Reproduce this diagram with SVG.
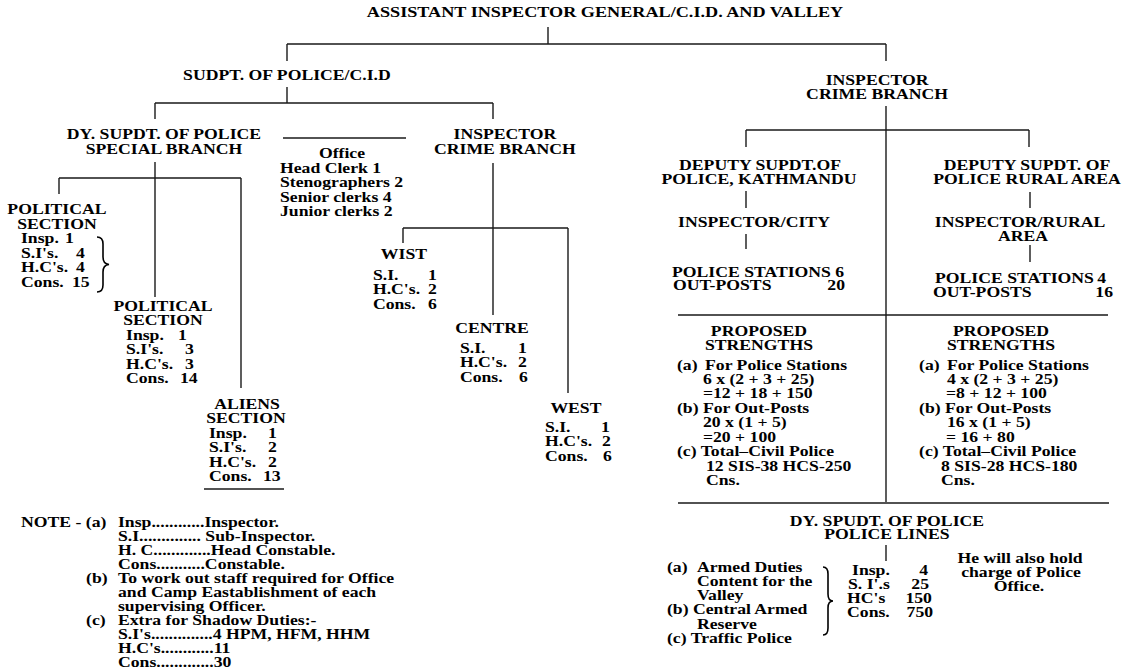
<svg xmlns="http://www.w3.org/2000/svg" width="1137" height="669" viewBox="0 0 1137 669">
<style>
text { font-family: "Liberation Serif", "Times New Roman", serif; font-weight: bold; font-size: 14.5px; fill: #000; }
.c { text-anchor: middle; }
.e { text-anchor: end; }
.ttl { font-size: 14.9px; }
.ln { stroke: #1a1a1a; stroke-width: 1.4; fill: none; }
.br { stroke: #000; stroke-width: 1.6; fill: none; }
</style>
<rect width="1137" height="669" fill="#fff"/>
<g id="connectors" class="ln">
  <path d="M548 27 V44 M287 44 H886 M287 44 V61 M886 44 V61"/>
  <path d="M287 87 V103 M155 103 H493 M155 103 V119 M493 103 V119"/>
  <path d="M283 138 H406"/>
  <path d="M155 162 V297 M59 178 H241 M59 178 V194 M241 178 V388"/>
  <path d="M493 163 V315 M403 228 H568 M403 228 V243 M568 228 V393"/>
  <path d="M886 106 V502 M746 130 H1029 M746 130 V147 M1029 130 V147"/>
  <path d="M746 191 V208 M746 234 V249 M1030 192 V208 M1030 245 V262"/>
  <path d="M678 315 H1108 M678 503 H1109"/>
  <path d="M886 545 V561"/>
</g>
<g id="n-title"><g transform="scale(1.22 1)"><text class="c ttl" x="495.9" y="17">ASSISTANT INSPECTOR GENERAL/C.I.D. AND VALLEY</text></g></g>
<g id="n-sudpt"><g transform="scale(1.22 1)"><text class="c" x="235.2" y="80">SUDPT. OF POLICE/C.I.D</text></g></g>
<g id="n-dy-special"><g transform="scale(1.22 1)">
  <text class="c" x="134.4" y="139">DY. SUPDT. OF POLICE</text>
  <text class="c" x="134.4" y="154">SPECIAL BRANCH</text>
</g></g>
<g id="n-office"><g transform="scale(1.22 1)">
  <text class="c" x="280.3" y="158">Office</text>
  <text x="229.5" y="173">Head Clerk 1</text>
  <text x="229.5" y="187">Stenographers 2</text>
  <text x="229.5" y="202">Senior clerks 4</text>
  <text x="229.5" y="216">Junior clerks 2</text>
</g></g>
<g id="n-insp-crime-left"><g transform="scale(1.22 1)">
  <text class="c" x="413.9" y="139">INSPECTOR</text>
  <text class="c" x="413.9" y="154">CRIME BRANCH</text>
</g></g>
<g id="n-political-1"><g transform="scale(1.22 1)">
  <text class="c" x="46.7" y="214">POLITICAL</text>
  <text class="c" x="46.7" y="229">SECTION</text>
  <text x="17.2" y="243.5">Insp.</text><text x="53.3" y="243.5">1</text>
  <text x="17.2" y="258">S.I's.</text><text x="62.3" y="258">4</text>
  <text x="17.2" y="272.5">H.C's.</text><text x="62.3" y="272.5">4</text>
  <text x="17.2" y="287">Cons.</text><text x="59" y="287">15</text>
</g>
  <path class="br" d="M97 237 Q103 237 103 244 V257 Q103 264 109 264.5 Q103 265 103 272 V285 Q103 292 97 292"/>
</g>
<g id="n-political-2"><g transform="scale(1.22 1)">
  <text class="c" x="133.6" y="311">POLITICAL</text>
  <text class="c" x="133.6" y="325.5">SECTION</text>
  <text x="103.3" y="340">Insp.</text><text x="145.9" y="340">1</text>
  <text x="103.3" y="354.5">S.I's.</text><text x="151.6" y="354.5">3</text>
  <text x="103.3" y="369">H.C's.</text><text x="151.6" y="369">3</text>
  <text x="103.3" y="383.5">Cons.</text><text x="147.5" y="383.5">14</text>
</g></g>
<g id="n-aliens"><g transform="scale(1.22 1)">
  <text class="c" x="202.5" y="409">ALIENS</text>
  <text class="c" x="201.6" y="423.5">SECTION</text>
  <text x="171.3" y="438">Insp.</text><text x="219.7" y="438">1</text>
  <text x="171.3" y="452.5">S.I's.</text><text x="219.7" y="452.5">2</text>
  <text x="171.3" y="467">H.C's.</text><text x="219.7" y="467">2</text>
  <text x="171.3" y="481.5">Cons.</text><text x="215.6" y="481.5">13</text>
</g>
  <path class="ln" d="M204 489 H284"/>
</g>
<g id="n-wist"><g transform="scale(1.22 1)">
  <text class="c" x="331.1" y="259">WIST</text>
  <text x="305.7" y="280">S.I.</text><text x="350.8" y="280">1</text>
  <text x="305.7" y="294.5">H.C's.</text><text x="350.8" y="294.5">2</text>
  <text x="305.7" y="309">Cons.</text><text x="350.8" y="309">6</text>
</g></g>
<g id="n-centre"><g transform="scale(1.22 1)">
  <text class="c" x="403.3" y="333">CENTRE</text>
  <text x="377" y="353">S.I.</text><text x="424.6" y="353">1</text>
  <text x="377" y="367.5">H.C's.</text><text x="424.6" y="367.5">2</text>
  <text x="377" y="382">Cons.</text><text x="425.4" y="382">6</text>
</g></g>
<g id="n-west"><g transform="scale(1.22 1)">
  <text class="c" x="472.1" y="413">WEST</text>
  <text x="446.7" y="432">S.I.</text><text x="492.6" y="432">1</text>
  <text x="446.7" y="446.5">H.C's.</text><text x="493.4" y="446.5">2</text>
  <text x="446.7" y="461">Cons.</text><text x="494.3" y="461">6</text>
</g></g>
<g id="n-insp-crime-right"><g transform="scale(1.22 1)">
  <text class="c" x="718.9" y="85">INSPECTOR</text>
  <text class="c" x="718.9" y="99">CRIME BRANCH</text>
</g></g>
<g id="n-dsp-kathmandu"><g transform="scale(1.22 1)">
  <text class="c" x="623" y="170">DEPUTY SUPDT.OF</text>
  <text class="c" x="622.1" y="184">POLICE, KATHMANDU</text>
</g></g>
<g id="n-insp-city"><g transform="scale(1.22 1)"><text class="c" x="618" y="227">INSPECTOR/CITY</text></g></g>
<g id="n-stations-city"><g transform="scale(1.22 1)">
  <text x="550.8" y="277">POLICE STATIONS 6</text>
  <text x="551.6" y="290.5">OUT-POSTS</text><text class="e" x="692.6" y="290.5">20</text>
</g></g>
<g id="n-dsp-rural"><g transform="scale(1.22 1)">
  <text class="c" x="841.8" y="170">DEPUTY SUPDT. OF</text>
  <text class="c" x="841.8" y="184">POLICE RURAL AREA</text>
</g></g>
<g id="n-insp-rural"><g transform="scale(1.22 1)">
  <text class="c" x="836.1" y="227">INSPECTOR/RURAL</text>
  <text class="c" x="838.5" y="241">AREA</text>
</g></g>
<g id="n-stations-rural"><g transform="scale(1.22 1)">
  <text x="766.4" y="283">POLICE STATIONS</text><text class="e" x="906.6" y="283">4</text>
  <text x="764.8" y="297">OUT-POSTS</text><text class="e" x="912.3" y="297">16</text>
</g></g>
<g id="n-proposed-city"><g transform="scale(1.22 1)">
  <text class="c" x="622.1" y="336">PROPOSED</text>
  <text class="c" x="622.1" y="350">STRENGTHS</text>
  <text x="554.9" y="370">(a)<tspan x="577.9">For Police Stations</tspan></text>
  <text x="576.2" y="384.5">6 x (2 + 3 + 25)</text>
  <text x="576.2" y="398.5">=12 + 18 + 150</text>
  <text x="554.9" y="413">(b) For Out-Posts</text>
  <text x="576.2" y="427.5">20 x (1 + 5)</text>
  <text x="576.2" y="442">=20 + 100</text>
  <text x="554.9" y="456.5">(c) Total–Civil Police</text>
  <text x="578.7" y="471">12 SIS-38 HCS-250</text>
  <text x="578.7" y="485">Cns.</text>
</g></g>
<g id="n-proposed-rural"><g transform="scale(1.22 1)">
  <text class="c" x="820.5" y="336">PROPOSED</text>
  <text class="c" x="820.5" y="350">STRENGTHS</text>
  <text x="753.3" y="370">(a)<tspan x="776.2">For Police Stations</tspan></text>
  <text x="776.2" y="384.5">4 x (2 + 3 + 25)</text>
  <text x="775.4" y="398.5">=8 + 12 + 100</text>
  <text x="753.3" y="413">(b) For Out-Posts</text>
  <text x="776.2" y="427.5">16 x (1 + 5)</text>
  <text x="775.4" y="442">= 16 + 80</text>
  <text x="753.3" y="456.5">(c) Total–Civil Police</text>
  <text x="771.3" y="471">8 SIS-28 HCS-180</text>
  <text x="771.3" y="485">Cns.</text>
</g></g>
<g id="n-police-lines"><g transform="scale(1.22 1)">
  <text class="c" x="727" y="526">DY. SPUDT. OF POLICE</text>
  <text class="c" x="727" y="539.5">POLICE LINES</text>
</g></g>
<g id="n-armed-duties"><g transform="scale(1.22 1)">
  <text x="546.7" y="572">(a)<tspan x="571.3">Armed Duties</tspan></text>
  <text x="571.3" y="586">Content for the</text>
  <text x="571.3" y="600">Valley</text>
  <text x="546.7" y="614.5">(b) Central Armed</text>
  <text x="571.3" y="629">Reserve</text>
  <text x="546.7" y="643">(c) Traffic Police</text>
</g>
  <path class="br" d="M823 567 Q828 567 828 574 V594 Q828 601 833 601 Q828 601 828 608 V628 Q828 635 823 635"/>
</g>
<g id="n-lines-strength"><g transform="scale(1.22 1)">
  <text x="698.4" y="575">Insp.</text><text class="e" x="760.7" y="575">4</text>
  <text x="695.1" y="589">S. I'.s</text><text class="e" x="761.5" y="589">25</text>
  <text x="694.3" y="603">HC's</text><text class="e" x="763.9" y="603">150</text>
  <text x="694.3" y="617">Cons.</text><text class="e" x="764.8" y="617">750</text>
</g></g>
<g id="n-charge-note"><g transform="scale(1.22 1)">
  <text class="c" x="836.1" y="563">He will also hold</text>
  <text class="c" x="836.9" y="577">charge of Police</text>
  <text class="c" x="835.2" y="591">Office.</text>
</g></g>
<g id="n-note"><g transform="scale(1.22 1)">
  <text x="17.2" y="527">NOTE - (a)<tspan x="96.7">Insp............Inspector.</tspan></text>
  <text x="96.7" y="541">S.I.............. Sub-Inspector.</text>
  <text x="96.7" y="555">H. C.............Head Constable.</text>
  <text x="96.7" y="569">Cons...........Constable.</text>
  <text x="70.5" y="583">(b)<tspan x="96.7">To work out staff required for Office</tspan></text>
  <text x="96.7" y="597">and Camp Eastablishment of each</text>
  <text x="96.7" y="611">supervising Officer.</text>
  <text x="70.5" y="625">(c)<tspan x="96.7">Extra for Shadow Duties:-</tspan></text>
  <text x="96.7" y="639">S.I's..............4 HPM, HFM, HHM</text>
  <text x="96.7" y="653">H.C's............11</text>
  <text x="96.7" y="667">Cons.............30</text>
</g></g>
</svg>
